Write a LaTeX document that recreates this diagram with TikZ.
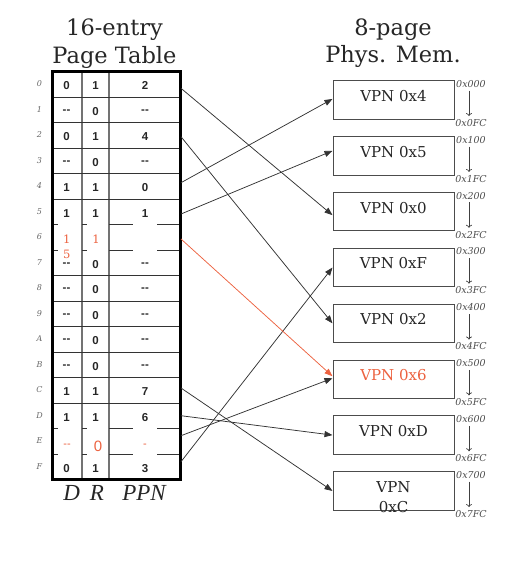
\documentclass[tikz,border=0pt]{standalone}
\usepackage{fontspec}
\setmainfont{DejaVu Serif}
\newfontfamily\cellfont{Liberation Sans}
\newfontfamily\timesfont{Liberation Serif}
\usetikzlibrary{arrows.meta,calc}
\definecolor{hl}{RGB}{236,98,64}
\newcommand\dd{-{}-}
\begin{document}
\begin{tikzpicture}[x=1pt,y=-1pt,
  cell/.style={font=\cellfont\bfseries\fontsize{11.5}{13}\selectfont, text=black!85, inner sep=0pt},
  redcell/.style={font=\fontsize{11.5}{13}\selectfont, text=hl, inner sep=0pt},
  redsans/.style={font=\cellfont\fontsize{11}{12}\selectfont, text=hl, inner sep=0pt},
  rowlab/.style={font=\itshape\fontsize{8}{9}\selectfont, text=black!60, inner sep=0pt},
  title/.style={font=\fontsize{22.5}{26}\selectfont, text=black!85, inner sep=0pt, anchor=base},
  collab/.style={font=\timesfont\itshape\fontsize{23}{25}\selectfont, text=black!85, inner sep=0pt, anchor=base},
  memtxt/.style={font=\fontsize{15}{17}\selectfont, text=black!85, inner sep=0pt},
  membox/.style={draw=black!70, line width=1pt, minimum width=121pt, minimum height=38.5pt, inner sep=0pt},
  addr/.style={font=\itshape\fontsize{9.5}{10}\selectfont, text=black!70, inner sep=0pt},
  conn/.style={draw=black!80, line width=0.75pt, -{Triangle[length=8pt,width=6pt]}},
  hlconn/.style={conn, draw=hl},
  hline/.style={draw=black!80, line width=1pt},
  vline/.style={draw=black!55, line width=1.3pt}
]
\useasboundingbox (0,0) rectangle (510,568);

% titles
\node[title] (t1) at (114.5,35) {16-entry};
\node[title] (t2) at (114.5,63.3) {Page Table};
\node[title] (t3) at (393,35) {8-page};
\node[title] (t4) at (393,62) {Phys. Mem.};

% table grid
\draw[vline] (82,71.7) -- (82,479.7);
\draw[vline] (109,71.7) -- (109,479.7);
\foreach \k in {1,2,3,4,5,8,9,10,11,12,13}{
  \draw[hline] (52.5,71.7+25.5*\k) -- (180.5,71.7+25.5*\k);
}
\foreach \k in {6,7,14,15}{
  \draw[hline] (52.5,71.7+25.5*\k) -- (57.5,71.7+25.5*\k);
  \draw[hline] (82,71.7+25.5*\k) -- (87,71.7+25.5*\k);
  \draw[hline] (109,71.7+25.5*\k) -- (133,71.7+25.5*\k);
  \draw[hline] (157,71.7+25.5*\k) -- (180.5,71.7+25.5*\k);
}
\draw[line width=2.5pt] (52.5,71.7) rectangle (180.5,479.7);

% cell texts
\foreach \i/\d/\r/\p in {0/0/1/2,1/\dd/0/\dd,2/0/1/4,3/\dd/0/\dd,4/1/1/0,5/1/1/1,7/\dd/0/\dd,8/\dd/0/\dd,9/\dd/0/\dd,10/\dd/0/\dd,11/\dd/0/\dd,12/1/1/7,13/1/1/6,15/0/1/3}{
  \node[cell] (d\i) at (66.5,85.7+25.5*\i) {\d};
  \node[cell] (r\i) at (95.5,85.7+25.5*\i) {\r};
  \node[cell] (p\i) at (145,85.7+25.5*\i) {\p};
}
\node[redcell] (d6a) at (66.7,239.5) {1};
\node[redcell] (d6b) at (66.7,254.5) {5};
\node[redcell] (r6) at (96,239.5) {1};
\node[redsans] (d14) at (67,446) {\dd};
\node[redsans, font=\cellfont\fontsize{15}{16}\selectfont] (r14) at (98,446) {0};
\node[redsans] (p14) at (145,446) {-};

% row labels
\foreach \i/\l in {0/0,1/1,2/2,3/3,4/4,5/5,6/6,7/7,8/8,9/9,10/A,11/B,12/C,13/D,14/E,15/F}{
  \node[rowlab] (l\i) at (39.5,84+25.5*\i) {\l};
}

% column labels
\node[collab] (cD) at (71.7,500.7) {D};
\node[collab] (cR) at (97,500.7) {R};
\node[collab] (cP) at (144,500.7) {PPN};

% physical memory
\foreach \i in {0,...,7}{
  \pgfmathsetmacro\mtop{80.7+55.86*\i}
  \node[membox] (m\i) at (393.5,\mtop+19.25) {};
  \node[addr] (a\i) at (471,\mtop+3.2) {0x\i00};
  \node[addr] (b\i) at (471,\mtop+42.2) {0x\i FC};
  \draw[black!75, line width=0.7pt, -{To[length=3pt,width=6pt]}] ($(a\i.south)+(-2,3)$) -- ($(b\i.north)+(-2,-3)$);
}
\node[memtxt] (v0) at ($(m0.center)+(0,-4)$) {VPN 0x4};
\node[memtxt] (v1) at ($(m1.center)+(0,-4)$) {VPN 0x5};
\node[memtxt] (v2) at ($(m2.center)+(0,-4)$) {VPN 0x0};
\node[memtxt] (v3) at ($(m3.center)+(0,-4)$) {VPN 0xF};
\node[memtxt] (v4) at ($(m4.center)+(0,-4)$) {VPN 0x2};
\node[memtxt, text=hl] (v5) at ($(m5.center)+(0,-4)$) {VPN 0x6};
\node[memtxt] (v6) at ($(m6.center)+(0,-4)$) {VPN 0xD};
\node[memtxt] (v7a) at ($(m7.center)+(0,-4)$) {VPN};
\node[memtxt] (v7b) at ($(m7.center)+(0,16)$) {0xC};

% connectors
\coordinate (s0) at (181,88.3);
\coordinate (s2) at (181,136.7);
\coordinate (s4) at (181,182.7);
\coordinate (s5) at (181,214);
\coordinate (s6) at (181,239);
\coordinate (sC) at (181,388);
\coordinate (sD) at (181,415.7);
\coordinate (sE) at (181,435.7);
\coordinate (sF) at (181,461.7);
\draw[conn] (s0) -- ($(m2.west)+(0,3.5)$);
\draw[conn] (s2) -- (m4.west);
\draw[conn] (s4) -- ($(m0.west)+(0,-1)$);
\draw[conn] (s5) -- ($(m1.west)+(0,-5)$);
\draw[conn] (sC) -- (m7.west);
\draw[conn] (sD) -- (m6.west);
\draw[conn] (sE) -- ($(m5.west)+(0,-1)$);
\draw[conn] (sF) -- (m3.west);
\draw[hlconn] (s6) -- ($(m5.west)+(0,-3)$);
\end{tikzpicture}
\end{document}
